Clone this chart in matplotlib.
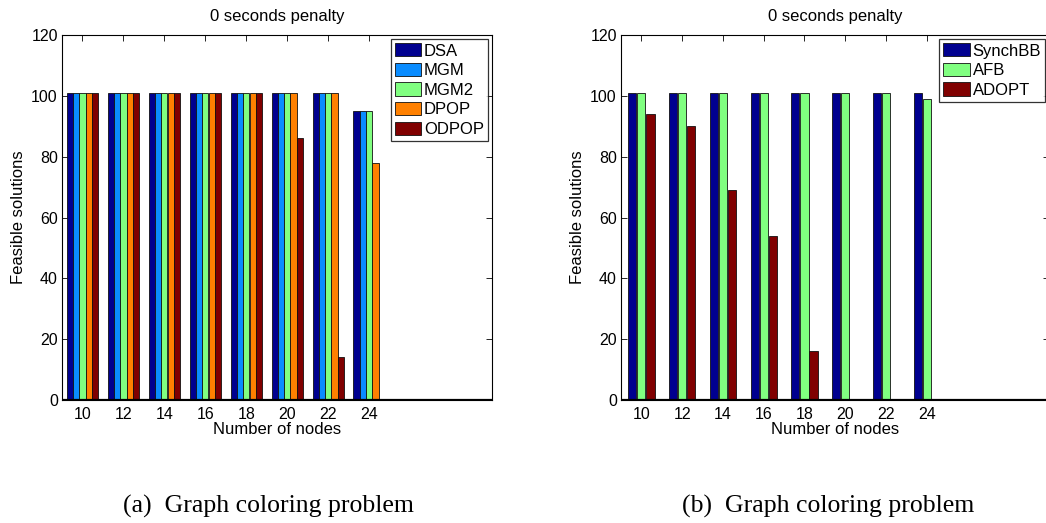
import numpy as np
import matplotlib
matplotlib.use("Agg")
import matplotlib.pyplot as plt

plt.rcParams['font.family'] = ['Liberation Sans', 'DejaVu Sans']

# Number of nodes in each test instance
nodes = [10, 12, 14, 16, 18, 20, 22, 24]

# Feasible solutions, left panel
dsa   = [101, 101, 101, 101, 101, 101, 101, 95]
mgm   = [101, 101, 101, 101, 101, 101, 101, 95]
mgm2  = [101, 101, 101, 101, 101, 101, 101, 95]
dpop  = [101, 101, 101, 101, 101, 101, 101, 78]
odpop = [101, 101, 101, 101, 101, 86, 14, 0]

# Feasible solutions, right panel
synchbb = [101, 101, 101, 101, 101, 101, 101, 101]
afb     = [101, 101, 101, 101, 101, 101, 101, 99]
adopt   = [94, 90, 69, 54, 16, 0, 0, 0]

left_series = [("DSA", dsa, "#00008f"), ("MGM", mgm, "#0a8cff"),
               ("MGM2", mgm2, "#80ff80"), ("DPOP", dpop, "#ff8000"),
               ("ODPOP", odpop, "#800000")]
right_series = [("SynchBB", synchbb, "#00008f"), ("AFB", afb, "#80ff80"),
                ("ADOPT", adopt, "#800000")]

W, H = 1046, 523
fig = plt.figure(figsize=(W / 100, H / 100), dpi=100)


def panel(rect, series, step, width, caption, caption_x):
    ax = fig.add_axes(rect)
    idx = np.arange(1, len(nodes) + 1)
    n = len(series)
    for k, (name, vals, col) in enumerate(series):
        off = (k - (n - 1) / 2) * step
        ax.bar(idx + off, vals, width=width, color=col, edgecolor="#111111",
               linewidth=0.6, label=name, zorder=2)
    ax.axhline(0, color="black", lw=1.6, zorder=3)
    ax.set_xlim(0.5, 11)
    ax.set_ylim(0, 120)
    ax.set_xticks(idx)
    ax.set_xticklabels([str(v) for v in nodes])
    ax.set_yticks(np.arange(0, 121, 20))
    ax.tick_params(direction="in", top=True, right=True, length=4,
                   width=0.6, labelsize=11.5)
    ax.tick_params(axis="x", pad=5)
    ax.tick_params(axis="y", pad=3)
    for s in ax.spines.values():
        s.set_linewidth(0.8)
    ax.set_title("0 seconds penalty", fontsize=12, pad=10)
    ax.set_xlabel("Number of nodes", fontsize=12, labelpad=0)
    ax.set_ylabel("Feasible solutions", fontsize=12, labelpad=4)
    leg = ax.legend(loc="upper right", bbox_to_anchor=(0.991, 0.989),
                    borderaxespad=0, fontsize=12, frameon=True, fancybox=False,
                    handlelength=1.6, handleheight=0.85, handletextpad=0.15,
                    labelspacing=0.25, borderpad=0.25)
    leg.get_frame().set_edgecolor("black")
    leg.get_frame().set_linewidth(0.9)
    fig.text(caption_x, 1 - 513 / H, caption, ha="center", va="baseline",
             fontsize=18.5, family="Liberation Serif")
    return ax


bottom = 1 - 400 / H
height = 365 / H
panel([62 / W, bottom, 430 / W, height], left_series, 0.154, 0.15,
      "(a)  Graph coloring problem", 268 / W)
panel([621 / W, bottom, 428 / W, height], right_series, 0.222, 0.2,
      "(b)  Graph coloring problem", 828 / W)

fig.savefig("out.png", dpi=100)
